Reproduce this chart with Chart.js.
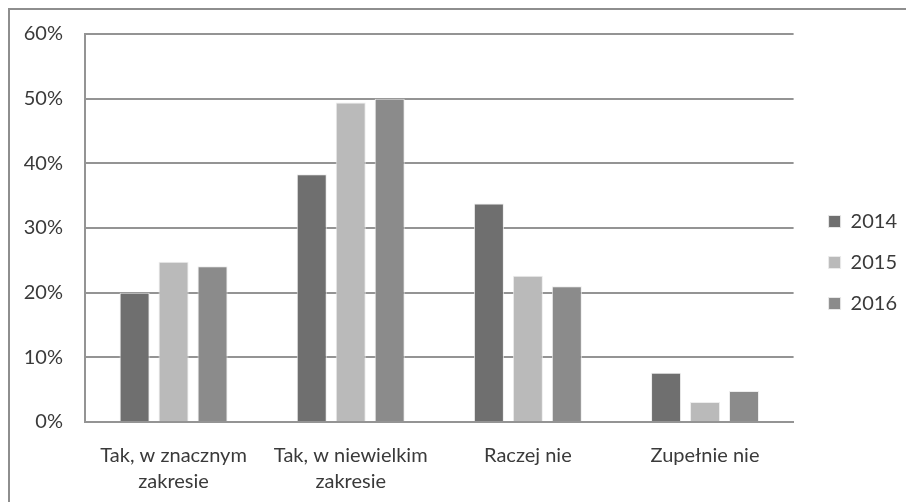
<!DOCTYPE html>
<html>
<head>
<meta charset="utf-8">
<script src="https://cdn.jsdelivr.net/npm/chart.js@4.4.1/dist/chart.umd.min.js"></script>
<style>
  html, body { margin: 0; padding: 0; background: #fff; }
  #wrap { width: 906px; height: 502px; }
</style>
</head>
<body>
<div id="wrap"><canvas id="barchart" width="906" height="502"></canvas></div>
<script>
// Data
const categories = [['Tak, w znacznym', 'zakresie'], ['Tak, w niewielkim', 'zakresie'], 'Raczej nie', 'Zupełnie nie'];
const years = ['2014', '2015', '2016'];
const values2014 = [20.0, 38.3, 33.8, 7.6];
const values2015 = [24.8, 49.4, 22.6, 3.1];
const values2016 = [24.1, 50.0, 21.0, 4.8];
const yTicks = [0, 10, 20, 30, 40, 50, 60];

// Styles
const barColors = ['#6f6f6f', '#bababa', '#8b8b8b'];
const gridColor = '#949494';
const textColor = '#3a3a3a';
const fontFamily = 'Lato, "Open Sans", sans-serif';
const fontSize = 20;
const legendExtraWidth = 13;
const legendShiftX = 14;
const legendShiftY = -5;

const ctx = document.getElementById('barchart');

// outer frame of the chart box
const frameBox = {
    id: 'frameBox',
    beforeDraw(chart) {
        const c = chart.ctx;
        c.save();
        c.fillStyle = '#fff';
        c.fillRect(0, 0, chart.width, chart.height);
        c.strokeStyle = '#8e8e8e';
        c.lineWidth = 2;
        c.strokeRect(9, 9, chart.width + 20, chart.height + 20);
        c.restore();
    }
};

// leave a wider gap between plot and legend
const legendGap = {
    id: 'legendGap',
    afterInit(chart) {
        const legend = chart.legend;
        const fit = legend.fit;
        const draw = legend.draw;
        legend.fit = function () {
            fit.call(this);
            this.width += legendExtraWidth;
        };
        legend.draw = function () {
            this.left += legendShiftX;
            this.top += legendShiftY;
            draw.call(this);
            this.left -= legendShiftX;
            this.top -= legendShiftY;
        };
    }
};

const seriesValues = [values2014, values2015, values2016];
const data = {
    labels: categories,
    datasets: years.map((y, i) => ({
        label: y,
        data: seriesValues[i],
        backgroundColor: barColors[i],
        borderColor: 'rgba(235,235,235,0.9)',
        borderWidth: 1,
        barPercentage: 0.77,
        categoryPercentage: 0.66,
    })),
};

const config = {
    type: 'bar',
    data: data,
    plugins: [frameBox, legendGap],
    options: {
        responsive: false,
        animation: false,
        layout: {
            padding: {top: 28, left: 0, right: 0, bottom: 0}
        },
        plugins: {
            legend: {
                position: 'right',
                align: 'center',
                labels: {
                    boxWidth: 12,
                    boxHeight: 12,
                    padding: 21,
                    color: textColor,
                    font: {family: fontFamily, size: fontSize},
                },
            },
            tooltip: {enabled: false},
        },
        scales: {
            x: {
                grid: {display: false, drawTicks: false},
                border: {display: true, color: gridColor, width: 2},
                ticks: {
                    color: textColor,
                    padding: 21,
                    maxRotation: 0,
                    autoSkip: false,
                    font: {family: fontFamily, size: fontSize, lineHeight: 1.27},
                },
                afterFit(scale) { scale.height = 80; },
            },
            y: {
                min: 0,
                max: 60,
                afterBuildTicks(scale) { scale.ticks = yTicks.map(v => ({value: v})); },
                grid: {color: gridColor, lineWidth: 2, drawTicks: false},
                border: {display: true, color: gridColor, width: 2},
                ticks: {
                    color: textColor,
                    padding: 22,
                    font: {family: fontFamily, size: fontSize},
                    callback: function (value) { return value + '%'; },
                },
                afterFit(scale) { scale.width = 85; },
            },
        },
    },
};

const barChart = new Chart(ctx, config);
</script>
</body>
</html>
